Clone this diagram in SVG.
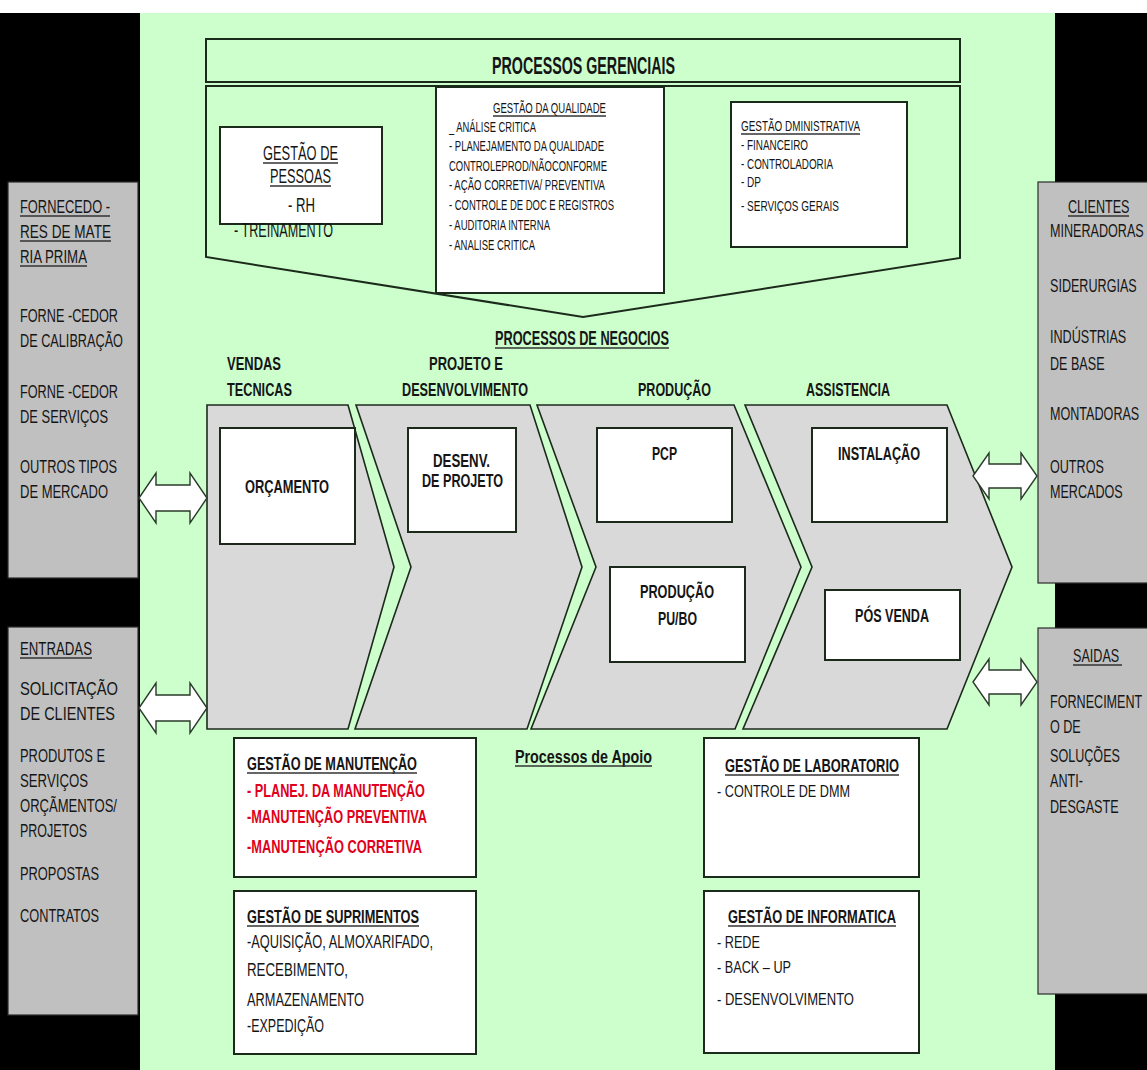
<svg xmlns="http://www.w3.org/2000/svg" width="1147" height="1070" viewBox="0 0 1147 1070">
  <style>
    .t { font-family: "Liberation Sans", Arial, sans-serif; fill: #151515; }
    .b { font-weight: bold; }
    .red { fill: #e0001b; }
    .f14 { font-size: 14.5px; }
    .f16 { font-size: 16.5px; }
    .f18 { font-size: 18px; }
    .f19 { font-size: 19px; }
    .f20 { font-size: 20px; }
    .f23 { font-size: 23px; }
    .ul { stroke: #333; stroke-width: 1.4; }
    .box { fill: #ffffff; stroke: #1c2a1c; stroke-width: 2; }
    .side { fill: #c0c0c0; stroke: #2a2a2a; stroke-width: 1.2; }
    .chev { fill: #d9d9d9; stroke: #1c2a1c; stroke-width: 1.6; stroke-linejoin: miter; }
    .frame { fill: #ccffcc; stroke: #1c2a1c; stroke-width: 2; }
    .dbl { fill: #ffffff; stroke: #2a3a2a; stroke-width: 1.4; stroke-linejoin: miter; }
  </style>

  <!-- background -->
  <rect x="0" y="0" width="1147" height="1070" fill="#ffffff"/>
  <rect x="0" y="13" width="1147" height="1057" fill="#ccffcc"/>
  <rect x="0" y="13" width="140" height="1057" fill="#000000"/>
  <rect x="1055" y="13" width="92" height="1057" fill="#000000"/>

  <!-- left side panels -->
  <g id="fornecedores">
    <rect class="side" x="8" y="182" width="130" height="396"/>
    <text class="t f18" x="20" y="213" textLength="90" lengthAdjust="spacingAndGlyphs">FORNECEDO -</text>
    <line class="ul" x1="20" y1="216" x2="110" y2="216"/>
    <text class="t f18" x="20" y="238" textLength="91" lengthAdjust="spacingAndGlyphs">RES  DE MATE</text>
    <line class="ul" x1="20" y1="241" x2="111" y2="241"/>
    <text class="t f18" x="20" y="263" textLength="67" lengthAdjust="spacingAndGlyphs">RIA PRIMA</text>
    <line class="ul" x1="20" y1="266" x2="87" y2="266"/>
    <text class="t f18" x="20" y="322" textLength="98" lengthAdjust="spacingAndGlyphs">FORNE -CEDOR</text>
    <text class="t f18" x="20" y="347" textLength="103" lengthAdjust="spacingAndGlyphs">DE CALIBRAÇÃO</text>
    <text class="t f18" x="20" y="398" textLength="98" lengthAdjust="spacingAndGlyphs">FORNE -CEDOR</text>
    <text class="t f18" x="20" y="423" textLength="88" lengthAdjust="spacingAndGlyphs">DE SERVIÇOS</text>
    <text class="t f18" x="20" y="473" textLength="97" lengthAdjust="spacingAndGlyphs">OUTROS TIPOS</text>
    <text class="t f18" x="20" y="498" textLength="88" lengthAdjust="spacingAndGlyphs">DE MERCADO</text>
  </g>

  <g id="entradas">
    <rect class="side" x="8" y="627" width="130" height="388"/>
    <text class="t f18" x="20" y="655" textLength="72" lengthAdjust="spacingAndGlyphs">ENTRADAS</text>
    <line class="ul" x1="20" y1="658" x2="92" y2="658"/>
    <text class="t f18" x="20" y="695" textLength="98" lengthAdjust="spacingAndGlyphs">SOLICITAÇÃO</text>
    <text class="t f18" x="20" y="720" textLength="95" lengthAdjust="spacingAndGlyphs">DE CLIENTES</text>
    <text class="t f18" x="20" y="762" textLength="85" lengthAdjust="spacingAndGlyphs">PRODUTOS E</text>
    <text class="t f18" x="20" y="787" textLength="68" lengthAdjust="spacingAndGlyphs">SERVIÇOS</text>
    <text class="t f18" x="20" y="812" textLength="97" lengthAdjust="spacingAndGlyphs">ORÇÃMENTOS/</text>
    <text class="t f18" x="20" y="837" textLength="67" lengthAdjust="spacingAndGlyphs">PROJETOS</text>
    <text class="t f18" x="20" y="880" textLength="79" lengthAdjust="spacingAndGlyphs">PROPOSTAS</text>
    <text class="t f18" x="20" y="922" textLength="79" lengthAdjust="spacingAndGlyphs">CONTRATOS</text>
  </g>

  <!-- right side panels: narrow lettering via horizontal scale -->
  <g id="clientes">
    <rect class="side" x="1038" y="182" width="110" height="401"/>
    <g transform="translate(1050,0) scale(0.7,1)">
      <text class="t f18" x="25.7" y="213">CLIENTES</text>
      <text class="t f18" x="0" y="237">MINERADORAS</text>
      <text class="t f18" x="0" y="292">SIDERURGIAS</text>
      <text class="t f18" x="0" y="343">INDÚSTRIAS</text>
      <text class="t f18" x="0" y="370">DE BASE</text>
      <text class="t f18" x="0" y="420">MONTADORAS</text>
      <text class="t f18" x="0" y="473">OUTROS</text>
      <text class="t f18" x="0" y="498">MERCADOS</text>
    </g>
    <line class="ul" x1="1068" y1="216" x2="1129" y2="216"/>
  </g>

  <g id="saidas">
    <rect class="side" x="1038" y="628" width="110" height="366"/>
    <g transform="translate(1050,0) scale(0.7,1)">
      <text class="t f18" x="32.9" y="662">SAIDAS</text>
      <text class="t f18" x="0" y="708">FORNECIMENT</text>
      <text class="t f18" x="0" y="733">O DE</text>
      <text class="t f18" x="0" y="762">SOLUÇÕES</text>
      <text class="t f18" x="0" y="787">ANTI-</text>
      <text class="t f18" x="0" y="813">DESGASTE</text>
    </g>
    <line class="ul" x1="1073" y1="665" x2="1122" y2="665"/>
  </g>

  <!-- management processes -->
  <g id="processos-gerenciais">
    <path class="frame" d="M206,86 L960,86 L960,258 L583,317 L206,257 Z"/>
    <rect class="frame" x="206" y="39" width="754" height="43"/>
    <text class="t b f23" x="492" y="74" textLength="183" lengthAdjust="spacingAndGlyphs">PROCESSOS GERENCIAIS</text>
  </g>

  <g id="gestao-pessoas">
    <rect class="box" x="220" y="127" width="162" height="97"/>
    <text class="t f20" x="263" y="160" textLength="75" lengthAdjust="spacingAndGlyphs">GESTÃO DE</text>
    <line class="ul" x1="263" y1="163" x2="338" y2="163"/>
    <text class="t f20" x="270" y="183" textLength="61" lengthAdjust="spacingAndGlyphs">PESSOAS</text>
    <line class="ul" x1="270" y1="186" x2="331" y2="186"/>
    <text class="t f20" x="288" y="212" textLength="27" lengthAdjust="spacingAndGlyphs">- RH</text>
    <text class="t f20" x="234" y="237" textLength="99" lengthAdjust="spacingAndGlyphs">- TREINAMENTO</text>
  </g>

  <g id="gestao-qualidade">
    <rect class="box" x="436" y="87" width="228" height="206"/>
    <text class="t f14" x="493" y="113" textLength="113" lengthAdjust="spacingAndGlyphs">GESTÃO DA QUALIDADE</text>
    <line class="ul" x1="493" y1="116" x2="606" y2="116"/>
    <text class="t f14" x="449" y="132" textLength="87" lengthAdjust="spacingAndGlyphs">_ ANÁLISE CRITICA</text>
    <text class="t f14" x="449" y="151" textLength="155" lengthAdjust="spacingAndGlyphs">- PLANEJAMENTO DA QUALIDADE</text>
    <text class="t f14" x="449" y="171" textLength="158" lengthAdjust="spacingAndGlyphs">CONTROLEPROD/NÃOCONFORME</text>
    <text class="t f14" x="449" y="190" textLength="156" lengthAdjust="spacingAndGlyphs">- AÇÃO CORRETIVA/ PREVENTIVA</text>
    <text class="t f14" x="449" y="210" textLength="165" lengthAdjust="spacingAndGlyphs">- CONTROLE DE DOC E REGISTROS</text>
    <text class="t f14" x="449" y="230" textLength="101" lengthAdjust="spacingAndGlyphs">- AUDITORIA INTERNA</text>
    <text class="t f14" x="449" y="250" textLength="86" lengthAdjust="spacingAndGlyphs">- ANALISE CRITICA</text>
  </g>

  <g id="gestao-administrativa">
    <rect class="box" x="731" y="102" width="176" height="145"/>
    <text class="t f14" x="741" y="131" textLength="119" lengthAdjust="spacingAndGlyphs">GESTÃO DMINISTRATIVA</text>
    <line class="ul" x1="741" y1="134" x2="860" y2="134"/>
    <text class="t f14" x="741" y="150" textLength="67" lengthAdjust="spacingAndGlyphs">- FINANCEIRO</text>
    <text class="t f14" x="741" y="169" textLength="92" lengthAdjust="spacingAndGlyphs">- CONTROLADORIA</text>
    <text class="t f14" x="741" y="187" textLength="20" lengthAdjust="spacingAndGlyphs">- DP</text>
    <text class="t f14" x="741" y="211" textLength="98" lengthAdjust="spacingAndGlyphs">- SERVIÇOS GERAIS</text>
  </g>

  <!-- business processes -->
  <g id="processos-negocios">
    <text class="t b f20" x="495" y="345" textLength="174" lengthAdjust="spacingAndGlyphs">PROCESSOS DE NEGOCIOS</text>
    <line class="ul" x1="495" y1="348" x2="669" y2="348"/>
  </g>

  <g id="vendas-tecnicas">
    <path class="chev" d="M207,405 L348,405 L394,567 L348,729 L207,729 Z"/>
    <text class="t b f18" x="227" y="370" textLength="54" lengthAdjust="spacingAndGlyphs">VENDAS</text>
    <text class="t b f18" x="227" y="396" textLength="65" lengthAdjust="spacingAndGlyphs">TECNICAS</text>
    <rect class="box" x="220" y="428" width="135" height="116"/>
    <text class="t b f18" x="245" y="493" textLength="84" lengthAdjust="spacingAndGlyphs">ORÇAMENTO</text>
  </g>

  <g id="projeto-desenvolvimento">
    <path class="chev" d="M356,405 L530,405 L582,567 L527,729 L355,729 L411,567 Z"/>
    <text class="t b f18" x="429" y="370" textLength="74" lengthAdjust="spacingAndGlyphs">PROJETO E</text>
    <text class="t b f18" x="402" y="396" textLength="126" lengthAdjust="spacingAndGlyphs">DESENVOLVIMENTO</text>
    <rect class="box" x="408" y="428" width="108" height="104"/>
    <text class="t b f18" x="433" y="467" textLength="57" lengthAdjust="spacingAndGlyphs">DESENV.</text>
    <text class="t b f18" x="422" y="487" textLength="81" lengthAdjust="spacingAndGlyphs">DE PROJETO</text>
  </g>

  <g id="producao">
    <path class="chev" d="M537,405 L734,405 L801,567 L735,729 L531,729 L596,567 Z"/>
    <text class="t b f18" x="638" y="396" textLength="73" lengthAdjust="spacingAndGlyphs">PRODUÇÃO</text>
    <rect class="box" x="597" y="428" width="135" height="94"/>
    <text class="t b f18" x="652" y="460" textLength="25" lengthAdjust="spacingAndGlyphs">PCP</text>
    <rect class="box" x="610" y="567" width="135" height="95"/>
    <text class="t b f18" x="640" y="598" textLength="74" lengthAdjust="spacingAndGlyphs">PRODUÇÃO</text>
    <text class="t b f18" x="658" y="625" textLength="39" lengthAdjust="spacingAndGlyphs">PU/BO</text>
  </g>

  <g id="assistencia">
    <path class="chev" d="M745,405 L947,405 L1012,567 L947,729 L743,729 L812,567 Z"/>
    <text class="t b f18" x="806" y="396" textLength="84" lengthAdjust="spacingAndGlyphs">ASSISTENCIA</text>
    <rect class="box" x="812" y="428" width="135" height="94"/>
    <text class="t b f18" x="838" y="460" textLength="82" lengthAdjust="spacingAndGlyphs">INSTALAÇÃO</text>
    <rect class="box" x="825" y="590" width="135" height="70"/>
    <text class="t b f18" x="855" y="622" textLength="74" lengthAdjust="spacingAndGlyphs">PÓS VENDA</text>
  </g>

  <!-- two-way flows between the side panels and the value chain -->
  <g id="connectors">
    <path class="dbl" d="M139,498 L156,473 L156,485 L190,485 L190,473 L207,498 L190,523 L190,511 L156,511 L156,523 Z"/>
    <path class="dbl" d="M139,708 L156,683 L156,695 L190,695 L190,683 L207,708 L190,733 L190,721 L156,721 L156,733 Z"/>
    <path class="dbl" d="M973,476 L989,453 L989,464 L1021,464 L1021,453 L1037,476 L1021,499 L1021,488 L989,488 L989,499 Z"/>
    <path class="dbl" d="M973,682 L989,659 L989,670 L1021,670 L1021,659 L1037,682 L1021,705 L1021,694 L989,694 L989,705 Z"/>
  </g>

  <!-- support processes -->
  <g id="processos-apoio">
    <text class="t b f19" x="515" y="763" textLength="137" lengthAdjust="spacingAndGlyphs">Processos de Apoio</text>
    <line class="ul" x1="515" y1="766" x2="652" y2="766"/>
  </g>

  <g id="gestao-manutencao">
    <rect class="box" x="234" y="738" width="242" height="139"/>
    <text class="t b f18" x="247" y="770" textLength="170" lengthAdjust="spacingAndGlyphs">GESTÃO DE MANUTENÇÃO</text>
    <line class="ul" x1="247" y1="773" x2="417" y2="773"/>
    <text class="t b f18 red" x="247" y="797" textLength="178" lengthAdjust="spacingAndGlyphs">- PLANEJ. DA MANUTENÇÃO</text>
    <text class="t b f18 red" x="247" y="823" textLength="180" lengthAdjust="spacingAndGlyphs">-MANUTENÇÃO PREVENTIVA</text>
    <text class="t b f18 red" x="247" y="853" textLength="175" lengthAdjust="spacingAndGlyphs">-MANUTENÇÃO CORRETIVA</text>
  </g>

  <g id="gestao-suprimentos">
    <rect class="box" x="234" y="891" width="242" height="163"/>
    <text class="t b f18" x="247" y="923" textLength="172" lengthAdjust="spacingAndGlyphs">GESTÃO DE SUPRIMENTOS</text>
    <line class="ul" x1="247" y1="926" x2="419" y2="926"/>
    <text class="t f18" x="247" y="948" textLength="186" lengthAdjust="spacingAndGlyphs">-AQUISIÇÃO, ALMOXARIFADO,</text>
    <text class="t f18" x="247" y="976" textLength="101" lengthAdjust="spacingAndGlyphs">RECEBIMENTO,</text>
    <text class="t f18" x="247" y="1006" textLength="117" lengthAdjust="spacingAndGlyphs">ARMAZENAMENTO</text>
    <text class="t f18" x="247" y="1032" textLength="77" lengthAdjust="spacingAndGlyphs">-EXPEDIÇÃO</text>
  </g>

  <g id="gestao-laboratorio">
    <rect class="box" x="704" y="738" width="215" height="139"/>
    <text class="t b f18" x="725" y="772" textLength="174" lengthAdjust="spacingAndGlyphs">GESTÃO DE LABORATORIO</text>
    <line class="ul" x1="725" y1="775" x2="899" y2="775"/>
    <text class="t f16" x="717" y="797" textLength="133" lengthAdjust="spacingAndGlyphs">- CONTROLE DE DMM</text>
  </g>

  <g id="gestao-informatica">
    <rect class="box" x="704" y="891" width="215" height="162"/>
    <text class="t b f18" x="728" y="923" textLength="168" lengthAdjust="spacingAndGlyphs">GESTÃO DE INFORMATICA</text>
    <line class="ul" x1="728" y1="926" x2="896" y2="926"/>
    <text class="t f16" x="717" y="948" textLength="43" lengthAdjust="spacingAndGlyphs">- REDE</text>
    <text class="t f16" x="717" y="973" textLength="74" lengthAdjust="spacingAndGlyphs">- BACK – UP</text>
    <text class="t f16" x="717" y="1005" textLength="137" lengthAdjust="spacingAndGlyphs">- DESENVOLVIMENTO</text>
  </g>
</svg>
